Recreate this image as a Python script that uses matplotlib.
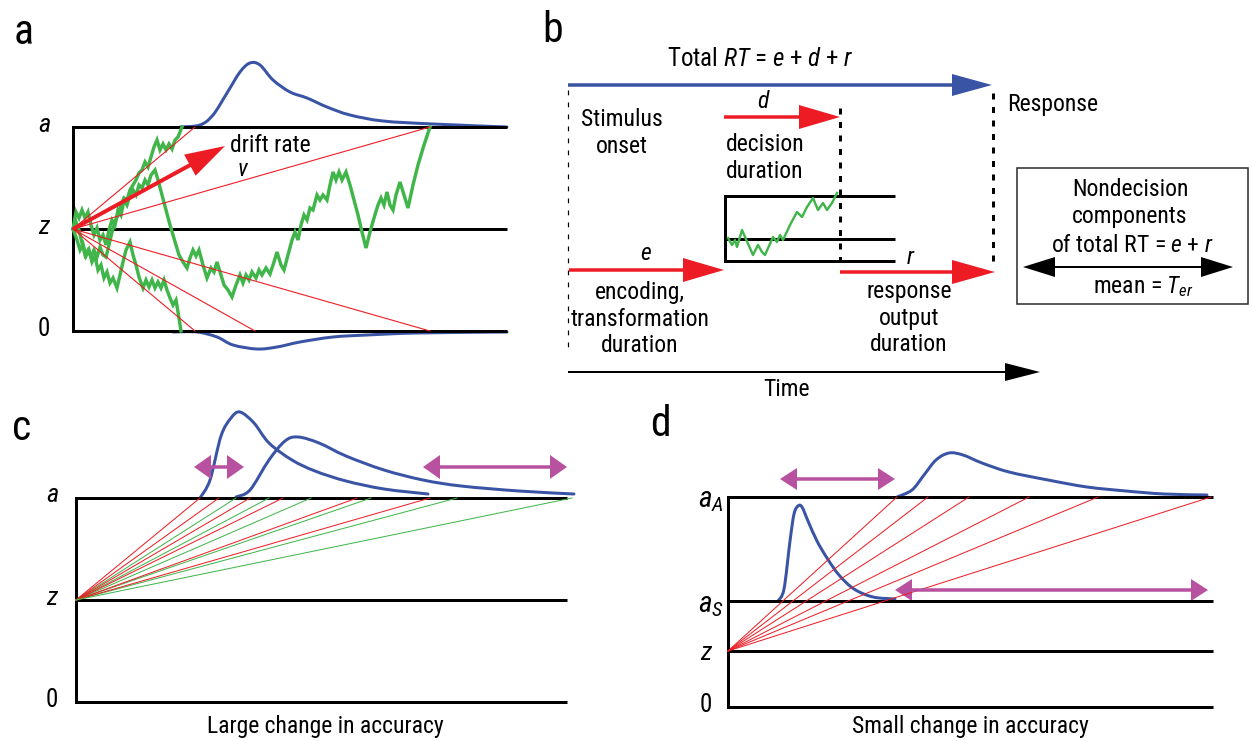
import numpy as np
import matplotlib
matplotlib.use("Agg")
import matplotlib.pyplot as plt
from matplotlib import font_manager
from matplotlib.patches import Polygon, Rectangle, PathPatch
from matplotlib.path import Path

# ---- fonts: a narrow sans is closest to the original Helvetica Condensed
names = {f.name for f in font_manager.fontManager.ttflist}
font = next((n for n in ["Liberation Sans Narrow", "Roboto Condensed", "Liberation Sans"] if n in names),
            "DejaVu Sans")
plt.rcParams["font.family"] = [font, "DejaVu Sans"]
plt.rcParams["mathtext.fontset"] = "custom"
plt.rcParams["mathtext.rm"] = font
plt.rcParams["mathtext.it"] = font + ":italic"

BLUE = "#3a54a5"
RED = "#ed1c24"
GREEN = "#40b54a"
PINK = "#b8519f"

# ---- panel a: random walks, drift lines and RT distributions (pixel coords)
walk1_x = [73, 76, 79, 82, 85, 88, 91, 94, 97, 100, 103, 106, 109, 112, 115, 118, 121, 124, 127, 130,
           133, 136, 139, 142, 145, 148, 151, 154, 157, 160, 163, 166, 169, 172, 175, 178, 182]
walk1_y = [229, 222, 230, 243, 255, 250, 257, 250, 257, 247, 255, 257, 245, 232, 222, 215, 205, 198, 200, 190,
           185, 180, 173, 170, 162, 167, 157, 147, 140, 150, 144, 150, 144, 149, 140, 137, 127]
walk2_x = [73, 76, 79, 82, 85, 88, 91, 94, 97, 100, 103, 106, 109, 112, 115, 118, 121, 124, 127, 130,
           133, 136, 139, 142, 145, 148, 151, 155, 158, 162, 166, 170, 173, 176, 179, 183, 187, 190, 193,
           196, 199, 203, 207, 211, 214, 217, 221, 224, 228, 232, 236, 240, 243, 246, 249, 252, 256, 259,
           262, 266, 270, 274, 277, 281, 284, 288, 292, 295, 298, 301, 304, 307, 310, 313, 317, 320, 323,
           327, 330, 333, 336, 339, 342, 346, 350, 354, 358, 362, 366, 370, 374, 378, 381, 384, 387, 390,
           393, 396, 400, 404, 408, 413, 418, 424, 430]
walk2_y = [229, 212, 218, 210, 218, 212, 225, 235, 228, 240, 235, 245, 230, 220, 225, 210, 215, 200, 205, 195,
           190, 195, 185, 188, 180, 185, 175, 170, 180, 195, 210, 225, 235, 245, 255, 262, 268, 258, 250,
           256, 250, 265, 278, 268, 272, 262, 275, 285, 290, 297, 285, 275, 283, 275, 280, 272, 278, 270,
           275, 268, 274, 262, 252, 265, 270, 255, 240, 232, 240, 225, 215, 220, 208, 210, 195, 200, 195,
           200, 185, 172, 180, 172, 180, 172, 185, 200, 215, 232, 248, 232, 218, 205, 198, 205, 192, 205,
           210, 195, 182, 195, 208, 185, 165, 145, 127]
walk3_x = [73, 77, 80, 83, 86, 89, 92, 95, 98, 101, 104, 107, 110, 113, 117, 120, 123, 126, 130, 133,
           136, 139, 143, 146, 149, 152, 155, 158, 161, 164, 167, 170, 173, 176, 178, 181]
walk3_y = [229, 240, 250, 244, 256, 250, 262, 256, 270, 265, 278, 272, 283, 278, 288, 275, 262, 250, 242, 255,
           265, 277, 288, 280, 287, 280, 288, 282, 288, 280, 290, 298, 305, 300, 312, 331]
drift_upper_ends = [195, 430]
drift_lower_ends = [195, 255, 430]
dist_up_x = [180, 200, 213, 227, 240, 250, 260, 273, 290, 307, 327, 350, 383, 433, 507]
dist_up_y = [127, 125, 115, 93, 72, 63, 65, 80, 92, 98, 107, 115, 121, 124, 127]
dist_lo_x = [173, 197, 217, 233, 257, 277, 300, 333, 367, 417, 507]
dist_lo_y = [332, 332, 337, 345, 349, 347, 342, 337, 335, 333, 332]

# ---- panel b
dec_walk_x = [728, 732, 735, 737, 742, 753, 758, 762, 765, 773, 777, 780, 783, 790, 797, 802, 807, 813,
              818, 823, 827, 832, 837]
dec_walk_y = [238, 245, 240, 247, 230, 255, 245, 252, 255, 237, 242, 235, 240, 225, 212, 217, 207, 198,
              210, 203, 210, 203, 193]

# ---- panel c: drift lines ending on boundary a, two RT distributions
c_red_ends = [200, 219, 250, 283, 357, 430]
c_green_ends = [236, 269, 311, 371, 457, 572]
c_dist1_x = [200, 210, 221, 231, 240, 254, 269, 292, 315, 346, 384, 428]
c_dist1_y = [498, 480, 436, 418, 412, 423, 443, 460, 471, 481, 489, 494]
c_dist2_x = [236, 250, 269, 285, 298, 319, 346, 384, 423, 461, 519, 574]
c_dist2_y = [497, 490, 460, 441, 437, 443, 456, 470, 480, 486, 491, 494]

# ---- panel d: drift lines to a_A, distributions at a_S and a_A
d_red_ends = [897, 928, 969, 1029, 1098, 1211]
d_dist1_x = [778, 784, 790, 794, 798, 802, 808, 817, 827, 839, 854, 873, 895]
d_dist1_y = [601, 589, 541, 514, 506, 507, 521, 541, 558, 575, 589, 597, 599]
d_dist2_x = [897, 912, 924, 936, 949, 963, 982, 1009, 1048, 1087, 1126, 1164, 1207]
d_dist2_y = [497, 490, 475, 460, 453, 455, 463, 472, 480, 487, 491, 494, 495]

fig = plt.figure(figsize=(12.52, 7.41), dpi=100)
ax = fig.add_axes([0, 0, 1, 1])
ax.set_xlim(0, 1252)
ax.set_ylim(741, 0)
ax.axis("off")

PX = 0.72  # points per pixel at dpi 100
FS = 17


def arrow(x0, y0, x1, y1, color, lw, hl, hw):
    u = np.array([x1 - x0, y1 - y0], float)
    u /= np.hypot(*u)
    n = np.array([-u[1], u[0]])
    tip = np.array([x1, y1], float)
    base = tip - u * hl
    ax.plot([x0, base[0] + u[0]], [y0, base[1] + u[1]], color=color, lw=lw, solid_capstyle="butt")
    ax.add_patch(Polygon([base + n * hw, tip, base - n * hw], closed=True, fc=color, ec="none"))


def double_arrow(x0, x1, y, color, lw, hl, hw):
    ax.plot([x0 + hl - 1, x1 - hl + 1], [y, y], color=color, lw=lw, solid_capstyle="butt")
    ax.add_patch(Polygon([[x0, y], [x0 + hl, y - hw], [x0 + hl, y + hw]], fc=color, ec="none"))
    ax.add_patch(Polygon([[x1, y], [x1 - hl, y - hw], [x1 - hl, y + hw]], fc=color, ec="none"))


def curve(xs, ys, color, lw):
    # smooth bezier curve through the read points
    p = np.column_stack([xs, ys]).astype(float)
    verts, codes = [p[0]], [Path.MOVETO]
    for i in range(len(p) - 1):
        p0 = p[i - 1] if i > 0 else p[i]
        p3 = p[i + 2] if i + 2 < len(p) else p[i + 1]
        verts += [p[i] + (p[i + 1] - p0) / 6, p[i + 1] - (p3 - p[i]) / 6, p[i + 1]]
        codes += [Path.CURVE4] * 3
    ax.add_patch(PathPatch(Path(verts, codes), fc="none", ec=color, lw=lw, capstyle="round"))


def label(x, y, s, **kw):
    kw.setdefault("fontsize", FS)
    ax.text(x, y, s, ha=kw.pop("ha", "center"), va=kw.pop("va", "center"), **kw)


# panel letters
label(24, 33, "a", fontsize=30)
label(553, 30, "b", fontsize=30)
label(22, 429, "c", fontsize=30)
label(660, 425, "d", fontsize=30)

# ================= panel a
for y in (127, 229, 331):
    ax.plot([73, 507], [y, y], color="black", lw=3 * PX, solid_capstyle="butt")
ax.plot([73, 73], [127, 331], color="black", lw=3 * PX)
label(44, 125, "a", style="italic", fontsize=19)
label(44, 227, "z", style="italic", fontsize=19)
label(44, 329, "0", fontsize=18)
for wx, wy in ((walk2_x, walk2_y), (walk3_x, walk3_y), (walk1_x, walk1_y)):
    ax.plot(wx, wy, color=GREEN, lw=3.4 * PX, solid_joinstyle="miter")
for xe in drift_upper_ends:
    ax.plot([73, xe], [229, 127], color=RED, lw=1.1 * PX)
for xe in drift_lower_ends:
    ax.plot([73, xe], [229, 331], color=RED, lw=1.1 * PX)
arrow(73, 229, 225, 146, RED, 4 * PX, 40, 12)
label(230, 145, "drift rate", ha="left")
label(242, 170, "v", style="italic")
curve(dist_up_x, dist_up_y, BLUE, 3 * PX)
curve(dist_lo_x, dist_lo_y, BLUE, 3 * PX)

# ================= panel b
label(760, 59, "Total $RT$ = $e$ + $d$ + $r$", fontsize=18)
arrow(568, 85, 992, 85, BLUE, 3.5 * PX, 40, 11)
ax.plot([568, 568], [90, 347], color="black", lw=1.2 * PX, ls=(0, (4, 6)))
ax.plot([840, 840], [108, 262], color="black", lw=3 * PX, ls=(0, (2, 2.5)))
ax.plot([993, 993], [93, 264], color="black", lw=3 * PX, ls=(0, (2, 2.5)))
label(622, 133, "Stimulus\nonset", linespacing=1.2)
label(763, 102, "d", style="italic")
arrow(724, 117, 840, 117, RED, 3.5 * PX, 41, 12)
label(726, 158, "decision\nduration", ha="left", linespacing=1.2)
for y in (196, 239, 261):
    ax.plot([725, 895], [y, y], color="black", lw=3 * PX, solid_capstyle="butt")
ax.plot([725, 725], [196, 261], color="black", lw=3 * PX)
ax.plot(dec_walk_x, dec_walk_y, color=GREEN, lw=2.4 * PX)
label(646, 254, "e", style="italic")
arrow(569, 270, 724, 270, RED, 3.5 * PX, 41, 12)
label(640, 319, "encoding,\ntransformation\nduration", linespacing=1.2)
label(910, 257, "r", style="italic")
arrow(840, 272, 995, 272, RED, 3.5 * PX, 43, 12)
label(909, 318, "response\noutput\nduration", linespacing=1.2)
label(1007, 105, "Response", ha="left")
arrow(568, 372, 1040, 372, "black", 2 * PX, 35, 9)
label(787, 390, "Time")

# nondecision box
ax.add_patch(Rectangle((1017, 168), 231, 136, fill=False, ec="#333333", lw=1.6 * PX))
label(1130, 190, "Nondecision")
label(1130, 217, "components")
label(1132, 245, "of total RT = $e$ + $r$")
double_arrow(1023, 1233, 267, "black", 2 * PX, 32, 10)
label(1143, 287, "mean = $T_{er}$")

# ================= panel c
for y in (498, 600, 702):
    ax.plot([76, 567], [y, y], color="black", lw=3 * PX, solid_capstyle="butt")
ax.plot([76, 76], [498, 702], color="black", lw=3 * PX)
label(52, 495, "a", style="italic", fontsize=19)
label(52, 598, "z", style="italic", fontsize=19)
label(52, 700, "0", fontsize=18)
for xr, xg in zip(c_red_ends, c_green_ends):
    ax.plot([76, xr], [600, 498], color=RED, lw=1 * PX)
    ax.plot([76, xg], [600, 498], color=GREEN, lw=1 * PX)
curve(c_dist1_x, c_dist1_y, BLUE, 3 * PX)
curve(c_dist2_x, c_dist2_y, BLUE, 3 * PX)
double_arrow(194, 244, 467, PINK, 3.5 * PX, 17, 12)
double_arrow(423, 567, 467, PINK, 3.5 * PX, 17, 12)
label(325, 727, "Large change in accuracy")

# ================= panel d
for y in (497, 601, 651, 707):
    ax.plot([728, 1213], [y, y], color="black", lw=3 * PX, solid_capstyle="butt")
ax.plot([728, 728], [497, 707], color="black", lw=3 * PX)
label(711, 500, "$a_A$", fontsize=21)
label(711, 605, "$a_S$", fontsize=21)
label(706, 653, "z", style="italic", fontsize=19)
label(706, 705, "0", fontsize=18)
for xe in d_red_ends:
    ax.plot([728, xe], [651, 497], color=RED, lw=1 * PX)
curve(d_dist1_x, d_dist1_y, BLUE, 3 * PX)
curve(d_dist2_x, d_dist2_y, BLUE, 3 * PX)
double_arrow(780, 895, 479, PINK, 3.5 * PX, 17, 11)
double_arrow(895, 1208, 590, PINK, 3.5 * PX, 17, 11)
label(970, 727, "Small change in accuracy")

fig.savefig("out.png", dpi=100)
